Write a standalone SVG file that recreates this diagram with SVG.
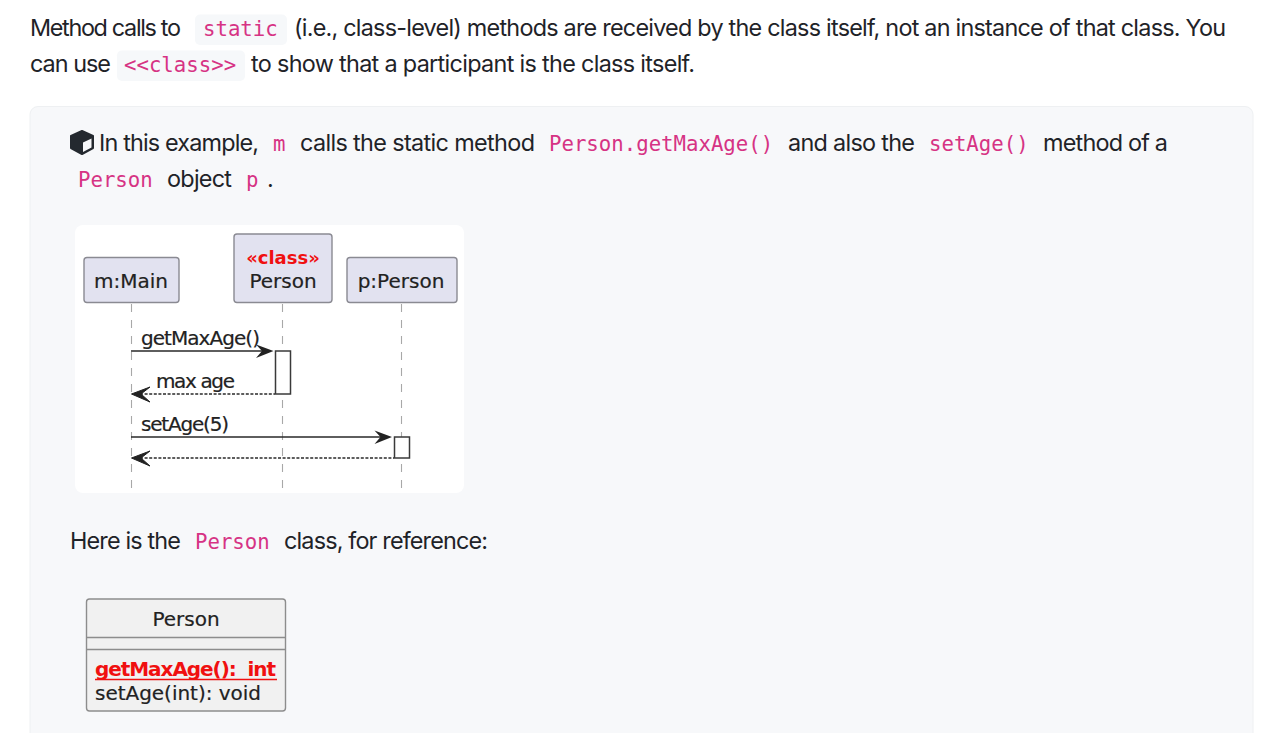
<svg xmlns="http://www.w3.org/2000/svg" width="1280" height="733" viewBox="0 0 1280 733">
<style>
text{white-space:pre}
.b{font-family:"Inter","Liberation Sans",sans-serif;font-size:23.4px;fill:#1f2328}
.c{font-family:"DejaVu Sans Mono","Liberation Mono",monospace;font-size:20.7px;fill:#d63384}
.chip{fill:#f6f8fa}
.u{font-family:"DejaVu Sans","Noto Sans",sans-serif;font-size:20px;fill:#222;stroke:#222;stroke-width:.2}
.red{fill:#f01010;stroke:none;font-weight:700}
.part{fill:#e2e2f0;stroke:#8a8a92;stroke-width:1.4}
.life{stroke:#a8a8a8;stroke-width:1.1;stroke-dasharray:8 8;fill:none}
.msg{stroke:#2a2a2a;stroke-width:1.5;fill:none}
.ret{stroke:#2a2a2a;stroke-width:1.4;stroke-dasharray:3 1.6;fill:none}
.act{fill:#fff;stroke:#3a3a3a;stroke-width:1.5}
.head{fill:#222}
</style>
<rect width="1280" height="733" fill="#fff"/>
<rect x="30" y="106.500" width="1223" height="640" rx="8" fill="#f7f8fa" stroke="#eef0f2"/>
<g id="intro">
<rect class="chip" x="195" y="14.500" width="92" height="30.500" rx="5"/>
<rect class="chip" x="117" y="50.500" width="128" height="30.500" rx="5"/>
<text class="b" x="30" y="36.400" textLength="151">Method calls to</text>
<text class="c" x="203" y="36.400">static</text>
<text class="b" x="294" y="36.400" textLength="932">(i.e., class-level) methods are received by the class itself, not an instance of that class. You</text>
<text class="b" x="30" y="72.400" textLength="81">can use</text>
<text class="c" x="124" y="72.400">&lt;&lt;class&gt;&gt;</text>
<text class="b" x="251" y="72.400" textLength="444">to show that a participant is the class itself.</text>
</g>
<g id="example-text">
<path d="M82 131 L93 136 V148 L82 154 L71 148 V136 Z" fill="#24292f" stroke="#24292f" stroke-width="2" stroke-linejoin="round"/>
<path d="M83 142.500 L91.500 138.500 V147.500 L83 152 Z" fill="#f7f8fa"/>
<text class="b" x="99" y="151.400" textLength="160">In this example,</text>
<text class="c" x="273" y="151.400">m</text>
<text class="b" x="300" y="151.400" textLength="235">calls the static method</text>
<text class="c" x="549" y="151.400">Person.getMaxAge()</text>
<text class="b" x="788" y="151.400" textLength="127">and also the</text>
<text class="c" x="929" y="151.400">setAge()</text>
<text class="b" x="1043" y="151.400" textLength="125">method of a</text>
<text class="c" x="78" y="187.400">Person</text>
<text class="b" x="167" y="187.400" textLength="65">object</text>
<text class="c" x="246" y="187.400">p</text>
<text class="b" x="267" y="187.400">.</text>
<text class="b" x="70" y="548.500" textLength="111">Here is the</text>
<text class="c" x="195" y="548.500">Person</text>
<text class="b" x="284" y="548.500" textLength="204">class, for reference:</text>
</g>
<rect x="75" y="225" width="389" height="268" rx="8" fill="#fff"/>
<g id="connectors">
<path class="life" d="M131.500 304V490M282.500 304V490M401.500 304V490"/>
<path class="msg" d="M131 351H268M131 437H386"/>
<path class="ret" d="M140 394H275M140 458H394"/>
<path class="head" d="M273.500 351L256 344.500L262 351L256 358ZM392 437L374.500 430.500L380.500 437L374.500 444Z"/>
<path class="head" d="M131.500 394L150 387L141 394L150 402ZM131.500 458L150 451L141 458L150 466Z" stroke="#222" stroke-linejoin="round"/>
</g>
<g id="m-main"><rect class="part" x="84" y="257.500" width="95" height="45" rx="3"/><text class="u" x="131" y="287.500" text-anchor="middle">m:Main</text></g>
<g id="class-person"><rect class="part" x="234" y="234" width="98" height="68.500" rx="3"/><text class="u red" x="283" y="263.500" text-anchor="middle" style="font-size:18px">«class»</text><text class="u" x="283" y="287.500" text-anchor="middle">Person</text></g>
<g id="p-person"><rect class="part" x="347" y="257.500" width="110" height="45" rx="3"/><text class="u" x="401" y="287.500" text-anchor="middle">p:Person</text></g>
<rect id="activation-1" class="act" x="275.500" y="351" width="15" height="43"/>
<rect id="activation-2" class="act" x="394.500" y="437" width="15" height="21"/>
<text class="u" x="141" y="345" textLength="119">getMaxAge()</text>
<text class="u" x="156" y="388" textLength="79">max age</text>
<text class="u" x="141" y="431" textLength="88">setAge(5)</text>
<g id="person-class">
<rect x="86.500" y="599" width="199" height="112" rx="3" fill="#f1f1f1" stroke="#8d8d8d" stroke-width="1.4"/>
<path d="M87 637.500H285M87 649.500H285" stroke="#8d8d8d" stroke-width="1.4"/>
<text class="u" x="186" y="626" text-anchor="middle">Person</text>
<text class="u red" x="95" y="676" textLength="181">getMaxAge():  int</text>
<path d="M95 679.500H277" stroke="#f01010" stroke-width="1.4"/>
<text class="u" x="95" y="700" textLength="166">setAge(int): void</text>
</g>
</svg>
